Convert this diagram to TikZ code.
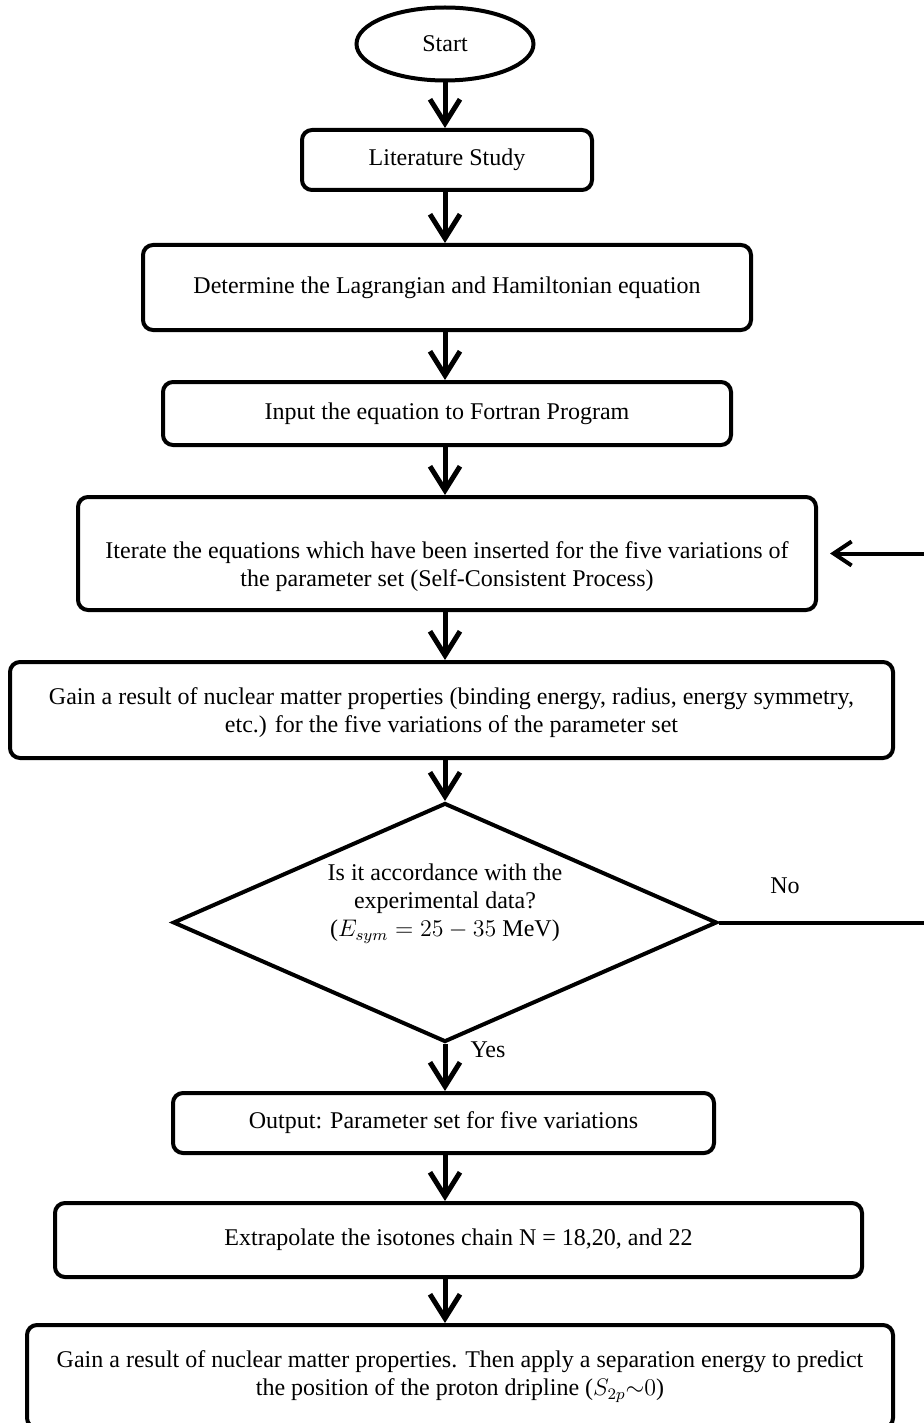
\documentclass[tikz,border=0pt]{standalone}
\usepackage{fontspec}
\setmainfont{Liberation Serif}
\usetikzlibrary{shapes.geometric,arrows.meta}
\tikzset{
  flowbox/.style={draw=black, line width=2pt, rounded corners=5pt, inner sep=0pt, align=center, font=\fontsize{12}{14}\selectfont},
  startoval/.style={ellipse, draw=black, line width=2pt, inner sep=0pt, font=\fontsize{12}{14}\selectfont},
  decshape/.style={diamond, draw=black, line width=2pt, inner sep=0pt},
  flowtext/.style={align=center, inner sep=0pt, font=\fontsize{12}{14}\selectfont},
  flowarrow/.style={line width=2.5pt, -{Straight Barb[length=12pt, width=15pt, line width=2.5pt]}},
  backline/.style={line width=2pt, -{Straight Barb[length=9pt, width=12pt, line width=2pt]}, shorten >=6pt},
}

\begin{document}
\begin{tikzpicture}[x=0.5pt, y=-0.5pt]
\useasboundingbox (0,0) rectangle (923,1423);
\coordinate (axis) at (445,0);
\coordinate (loopx) at (940,0);
\node[startoval, minimum width=88.5pt, minimum height=36.5pt] (start) at (445,44) {Start};
\node[flowbox, minimum width=145pt, minimum height=30pt] (lit) at (447,160) {Literature Study};
\node[flowbox, minimum width=304pt, minimum height=42.5pt] (det) at (447,287.5) {Determine the Lagrangian and Hamiltonian equation};
\node[flowbox, minimum width=284pt, minimum height=31.5pt] (inp) at (447,413.5) {Input the equation to Fortran Program};
\node[flowbox, minimum width=369pt, minimum height=56.5pt] (iter) at (447,553.5) {};
\node[flowtext] (itertext) at (447,567) {Iterate the equations which have been inserted for the five variations of\\the parameter set (Self-Consistent Process)};
\node[flowbox, minimum width=441.5pt, minimum height=48pt] (gain) at (451.5,710) {};
\node[flowtext] (gaintext) at (451.5,713) {Gain a result of nuclear matter properties (binding energy, radius, energy symmetry,\\etc.) for the five variations of the parameter set};
\node[decshape, minimum width=272pt, minimum height=119.5pt] (dec) at (445,922.5) {};
\node[flowtext] (dectext) at (445,904) {Is it accordance with the\\experimental data?\\($E_{sym} = 25 - 35$ MeV)};
\node[flowtext] (nolabel) at (785,886) {No};
\node[flowtext] (yeslabel) at (488,1050) {Yes};
\node[flowbox, minimum width=270.5pt, minimum height=30pt] (out) at (443.5,1123) {Output: Parameter set for five variations};
\node[flowbox, minimum width=403.5pt, minimum height=37pt] (ext) at (458.5,1240) {Extrapolate the isotones chain N = 18,20, and 22};
\node[flowbox, minimum width=433pt, minimum height=51.5pt] (fin) at (460,1376.5) {Gain a result of nuclear matter properties. Then apply a separation energy to predict\\the position of the proton dripline ($S_{2p}{\sim}0$)};
\draw[flowarrow] (start.south -| axis) -- (lit.north -| axis);
\draw[flowarrow] (lit.south -| axis) -- (det.north -| axis);
\draw[flowarrow] (det.south -| axis) -- (inp.north -| axis);
\draw[flowarrow] (inp.south -| axis) -- (iter.north -| axis);
\draw[flowarrow] (iter.south -| axis) -- (gain.north -| axis);
\draw[flowarrow] (gain.south -| axis) -- (dec.north);
\draw[flowarrow] (dec.south) -- (out.north -| axis);
\draw[flowarrow] (out.south -| axis) -- (ext.north -| axis);
\draw[flowarrow] (ext.south -| axis) -- (fin.north -| axis);
\draw[backline] (dec.east) -- (dec.east -| loopx) |- (iter.east);
\end{tikzpicture}
\end{document}
